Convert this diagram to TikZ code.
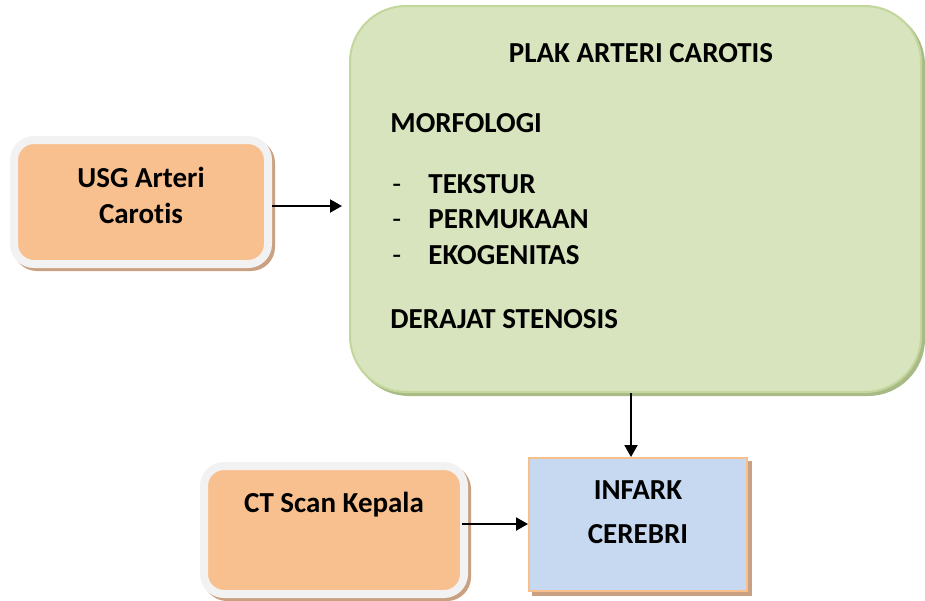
\documentclass[tikz,border=0pt]{standalone}
\usepackage{fontspec}
\setmainfont[Ligatures={NoCommon}]{Carlito}
\usetikzlibrary{arrows.meta}

\definecolor{orangefill}{HTML}{F9C08F}
\definecolor{rimgray}{HTML}{F2F2F2}
\definecolor{tanshadow}{HTML}{C9A182}
\definecolor{greenfill}{HTML}{D7E4BD}
\definecolor{greenline}{HTML}{C3D69B}
\definecolor{greenshadow}{HTML}{A9BA87}
\definecolor{bluefill}{HTML}{C6D9F1}
\definecolor{blueline}{HTML}{F8BF8E}

\tikzset{
  boxfont/.style={font=\bfseries\fontsize{14.5}{18}\selectfont},
  inputbox/.style={rectangle, rounded corners=10pt, fill=orangefill, draw=rimgray,
    line width=4pt, minimum width=127pt, minimum height=62pt,
    preaction={fill=tanshadow, draw=tanshadow, line width=4pt,
      transform canvas={shift={(1.5pt,-1.5pt)}}}},
  plakbox/.style={rectangle, rounded corners=28pt, fill=greenfill, draw=greenline,
    line width=1pt, minimum width=285.5pt, minimum height=193pt,
    preaction={fill=greenshadow, draw=greenshadow, line width=1pt,
      transform canvas={shift={(1.5pt,-1.5pt)}}}},
  outbox/.style={rectangle, fill=bluefill, draw=blueline, line width=1pt,
    minimum width=109pt, minimum height=66.5pt,
    preaction={fill=tanshadow, draw=tanshadow, line width=1pt,
      transform canvas={shift={(2pt,-2pt)}}}},
  arrow/.style={line width=1pt, -{Triangle[length=6pt,width=6.5pt]}}
}

\begin{document}
\begin{tikzpicture}[x=0.5pt,y=-0.5pt]
\useasboundingbox (0,0) rectangle (925,600);
% kotak input
\node[inputbox, boxfont, label={[boxfont, align=center, yshift=3.5pt]center:USG Arteri\\Carotis}] (usg) at (141,202) {};
\node[inputbox, boxfont, minimum width=130pt, minimum height=64pt, label={[boxfont, yshift=12.5pt]center:CT Scan Kepala}] (ct) at (334,530) {};
% kotak plak
\node[plakbox] (plak) at (635.5,199) {};
\node[boxfont] (judul) at (641,53) {PLAK ARTERI CAROTIS};
\node[boxfont, anchor=base west, inner sep=0pt] (morf) at (390,132) {MORFOLOGI};
\foreach \y/\teks/\nama in {193/TEKSTUR/tek, 228/PERMUKAAN/perm, 264/EKOGENITAS/eko} {
  \node[boxfont, anchor=base west, inner sep=0pt] (\nama) at (392,\y) {\makebox[18pt][l]{\mdseries -}\teks};
}
\node[boxfont, anchor=base west, inner sep=0pt] (derajat) at (390,328) {DERAJAT STENOSIS};
% kotak hasil
\node[outbox, boxfont, label={[boxfont, align=center, yshift=6pt, font=\bfseries\fontsize{14.5}{22}\selectfont]center:INFARK\\CEREBRI}] (infark) at (638,524.5) {};
% panah
\draw[arrow, shorten >=3.5pt] ([yshift=-2pt]usg.east) -- ([yshift=-2pt]usg.east -| plak.west);
\draw[arrow] ([xshift=-3.5pt]infark.north |- plak.south) -- ([xshift=-3.5pt]infark.north);
\draw[arrow, shorten <=-3pt] ([yshift=3pt]ct.east) -- ([yshift=3pt]ct.east -| infark.west);
\end{tikzpicture}
\end{document}
